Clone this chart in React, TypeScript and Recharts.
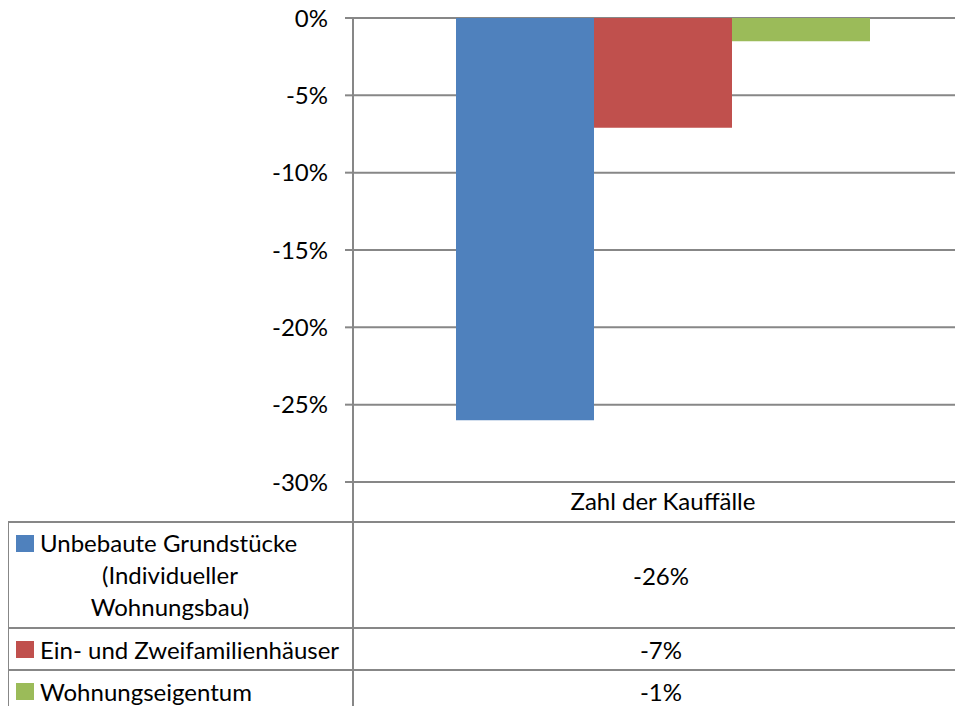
import { BarChart, Bar, XAxis, YAxis, CartesianGrid } from 'recharts';

const categories = ['Zahl der Kauffälle'];
const seriesNames = ['Unbebaute Grundstücke (Individueller Wohnungsbau)', 'Ein- und Zweifamilienhäuser', 'Wohnungseigentum'];
const unbebaute = [-26];
const einZwei = [-7.1];
const wohnungseigentum = [-1.5];
const yTicks = [0, -5, -10, -15, -20, -25, -30];

const colors = ['#4F81BD', '#C0504D', '#9BBB59'];
const grid = '#878787';
const font = 'Lato, sans-serif';

const data = categories.map((cat, i) => ({
    cat,
    s0: unbebaute[i],
    s1: einZwei[i],
    s2: wohnungseigentum[i],
}));

const pct = (v: number) => `${Math.round(v)}%`;

function Key({ color }: { color: string }) {
    return <span style={{ display: 'inline-block', width: 18, height: 17, background: color, marginRight: 6 }} />;
}

export default function App() {
    const rowLine = (top: number) => (
        <div style={{ position: 'absolute', left: -1, width: 960, top, height: 2, background: grid }} />
    );
    const valueCell = (top: number, height: number, v: number) => (
        <div style={{ position: 'absolute', left: 346, width: 614, top, height, display: 'flex', alignItems: 'center', justifyContent: 'center' }}>
            {pct(v)}
        </div>
    );

    return (
        <div style={{ position: 'relative', width: 955, height: 698, clipPath: 'inset(-8px 0 0 -8px)', fontFamily: font, fontSize: 24, color: '#000' }}>
            {/* chart starts a bit above the page margin so the 0% label has room;
                plot runs a little past the right edge, like the cropped original */}
            <div style={{ position: 'absolute', top: -8, left: 0 }}>
                <BarChart
                    width={965}
                    height={706}
                    data={data}
                    margin={{ top: 18, right: 0, left: 0, bottom: 184 }}
                    barCategoryGap={103}
                    barGap={0}
                >
                    <CartesianGrid vertical={false} stroke={grid} strokeWidth={2} />
                    <XAxis
                        dataKey="cat"
                        height={40}
                        axisLine={false}
                        tickLine={false}
                        tickMargin={5}
                        tick={{ fill: '#000', fontSize: 24, fontFamily: font }}
                    />
                    <YAxis
                        width={345}
                        domain={[-30, 0]}
                        ticks={yTicks}
                        interval={0}
                        tickFormatter={pct}
                        tickSize={8}
                        tickMargin={17}
                        axisLine={{ stroke: grid, strokeWidth: 2 }}
                        tickLine={{ stroke: grid, strokeWidth: 2 }}
                        tick={{ fill: '#000', fontSize: 24, fontFamily: font }}
                    />
                    <Bar dataKey="s0" name={seriesNames[0]} fill={colors[0]} isAnimationActive={false} />
                    <Bar dataKey="s1" name={seriesNames[1]} fill={colors[1]} isAnimationActive={false} />
                    <Bar dataKey="s2" name={seriesNames[2]} fill={colors[2]} isAnimationActive={false} />
                </BarChart>
            </div>

            {/* data table below the plot */}
            <div style={{ position: 'absolute', left: 344, width: 2, top: 474, height: 230, background: grid }} />
            <div style={{ position: 'absolute', left: -1, width: 2, top: 513, height: 190, background: grid }} />
            {rowLine(513)}
            {rowLine(619)}
            {rowLine(661)}

            <div style={{ position: 'absolute', left: 0, width: 344, top: 515, height: 104, display: 'flex', flexDirection: 'column', justifyContent: 'center', lineHeight: '32px' }}>
                <div style={{ paddingLeft: 8, display: 'flex', alignItems: 'center' }}>
                    <Key color={colors[0]} />Unbebaute Grundstücke
                </div>
                <div style={{ width: 324, textAlign: 'center' }}>(Individueller</div>
                <div style={{ width: 324, textAlign: 'center' }}>Wohnungsbau)</div>
            </div>
            <div style={{ position: 'absolute', left: 8, top: 621, height: 40, display: 'flex', alignItems: 'center' }}>
                <Key color={colors[1]} />{seriesNames[1]}
            </div>
            <div style={{ position: 'absolute', left: 8, top: 663, height: 40, display: 'flex', alignItems: 'center' }}>
                <Key color={colors[2]} />{seriesNames[2]}
            </div>

            {valueCell(515, 104, unbebaute[0])}
            {valueCell(621, 40, einZwei[0])}
            {valueCell(663, 40, wohnungseigentum[0])}
        </div>
    );
}
